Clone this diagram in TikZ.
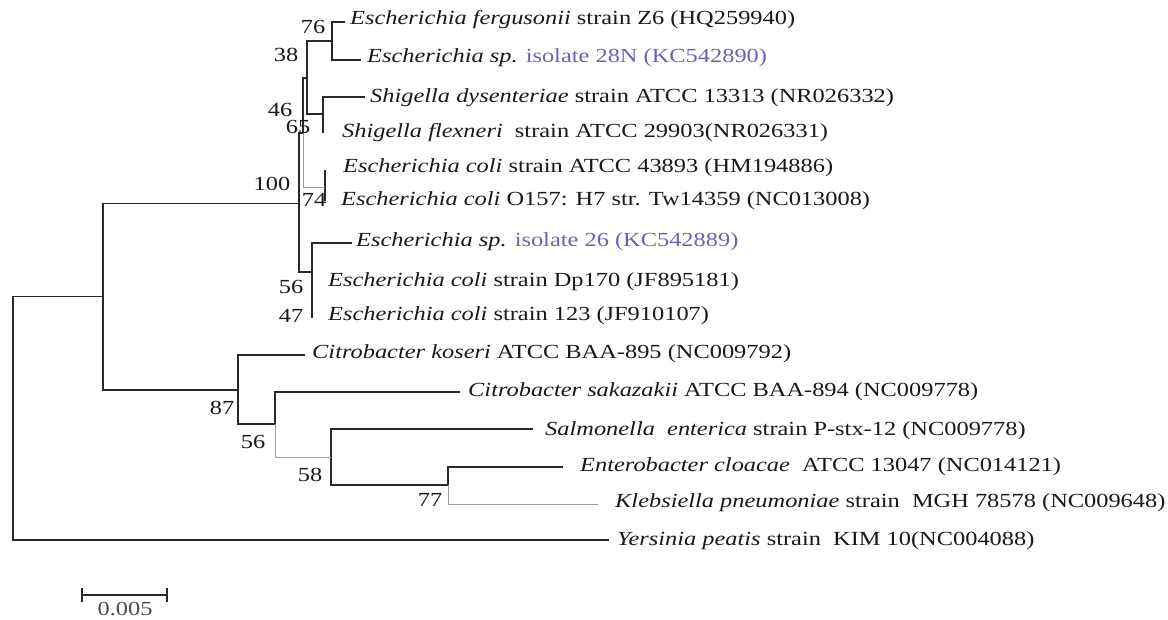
\documentclass[tikz,border=0pt]{standalone}
\usepackage{fontspec}
\setmainfont{Liberation Serif}[FakeStretch=1.22]
\definecolor{isolate}{RGB}{108,98,176}
\definecolor{branchgray}{RGB}{40,40,40}
\begin{document}
\begin{tikzpicture}[x=1pt, y=-1pt,
  branch/.style={draw=branchgray, line width=1.7pt},
  thinbranch/.style={draw=gray!75, line width=1pt},
  leaf/.style={anchor=west, inner sep=0pt, text=black!90, font=\fontsize{20}{24}\selectfont},
  boot/.style={inner sep=0pt, text=black!90, font=\fontsize{20}{24}\selectfont}]
  \useasboundingbox (0,0) rectangle (1168,619);
  % internal nodes
  \coordinate (r) at (13,418);
  \coordinate (n1) at (103,296.5);
  \coordinate (n100) at (299,203.5);
  \coordinate (n65) at (303,133);
  \coordinate (n38) at (307,78);
  \coordinate (n76) at (332,41);
  \coordinate (nsh) at (323,114);
  \coordinate (n74) at (325,187);
  \coordinate (n56a) at (312,272);
  \coordinate (n47) at (312,300);
  \coordinate (n87) at (238,390);
  \coordinate (n56b) at (275,424);
  \coordinate (n58) at (331,457);
  \coordinate (n77) at (448,485);
  % leaf tips
  \coordinate (t1) at (345,22);
  \coordinate (t2) at (361,60);
  \coordinate (t3) at (365,97);
  \coordinate (t4) at (323,133);
  \coordinate (t5) at (325,170);
  \coordinate (t6) at (325,201);
  \coordinate (t7) at (352,243);
  \coordinate (t8) at (312,282);
  \coordinate (t9) at (312,318);
  \coordinate (t10) at (305,355);
  \coordinate (t11) at (460,392);
  \coordinate (t12) at (533,429);
  \coordinate (t13) at (563,467);
  \coordinate (t14) at (598,504);
  \coordinate (t15) at (609,540);
  % branches
  \foreach \p/\c in {r/n1, r/t15, n1/n100, n1/n87, n100/n65, n100/n56a,
      n65/n38, n38/n76, n38/nsh, n76/t1, n76/t2, nsh/t3, nsh/t4, n74/t5, n74/t6,
      n56a/t7, n56a/n47, n47/t8, n47/t9, n87/t10, n87/n56b, n56b/t11,
      n58/t12, n58/n77, n77/t13}
    \draw[branch] (\p) |- (\c);
  \foreach \p/\c in {n65/n74, n56b/n58, n77/t14}
    \draw[thinbranch] (\p) |- (\c);
  % taxa
  \node[leaf] (l1) at (350,20) {\textit{Escherichia fergusonii} strain Z6 (HQ259940)};
  \node[leaf] (l2) at (367,58) {\textit{Escherichia sp.} \textcolor{isolate}{isolate 28N (KC542890)}};
  \node[leaf] (l3) at (370,98) {\textit{Shigella dysenteriae} strain ATCC 13313 (NR026332)};
  \node[leaf] (l4) at (342,133) {\textit{Shigella flexneri}\ \ strain ATCC 29903(NR026331)};
  \node[leaf] (l5) at (343,168) {\textit{Escherichia coli} strain ATCC 43893 (HM194886)};
  \node[leaf] (l6) at (341,201) {\textit{Escherichia coli} O157: H7 str. Tw14359 (NC013008)};
  \node[leaf] (l7) at (356,242) {\textit{Escherichia sp.} \textcolor{isolate}{isolate 26 (KC542889)}};
  \node[leaf] (l8) at (328,282) {\textit{Escherichia coli} strain Dp170 (JF895181)};
  \node[leaf] (l9) at (328,316) {\textit{Escherichia coli} strain 123 (JF910107)};
  \node[leaf] (l10) at (312,354) {\textit{Citrobacter koseri} ATCC BAA-895 (NC009792)};
  \node[leaf] (l11) at (468,392) {\textit{Citrobacter sakazakii} ATCC BAA-894 (NC009778)};
  \node[leaf] (l12) at (545,431) {\textit{Salmonella\ \ enterica} strain P-stx-12 (NC009778)};
  \node[leaf] (l13) at (580,467) {\textit{Enterobacter cloacae}\ \ ATCC 13047 (NC014121)};
  \node[leaf] (l14) at (615,503) {\textit{Klebsiella pneumoniae} strain\ \ MGH 78578 (NC009648)};
  \node[leaf] (l15) at (617,541) {\textit{Yersinia peatis} strain\ \ KIM 10(NC004088)};
  % bootstrap values
  \node[boot] (b76) at (313,27) {76};
  \node[boot] (b38) at (286,55) {38};
  \node[boot] (b46) at (280,110) {46};
  \node[boot] (b65) at (298,127) {65};
  \node[boot] (b100) at (272,184) {100};
  \node[boot] (b74) at (314,200) {74};
  \node[boot] (b56a) at (291,287) {56};
  \node[boot] (b47) at (291,316) {47};
  \node[boot] (b87) at (222,408) {87};
  \node[boot] (b56b) at (253,442) {56};
  \node[boot] (b58) at (310,475) {58};
  \node[boot] (b77) at (430,500) {77};
  % scale bar
  \coordinate (sb1) at (82,595);
  \coordinate (sb2) at (167,595);
  \draw[branch] (sb1) -- (sb2);
  \draw[branch] ([yshift=-7pt]sb1) -- ([yshift=7pt]sb1);
  \draw[branch] ([yshift=-7pt]sb2) -- ([yshift=7pt]sb2);
  \node[boot, text=black!70] (sbl) at (125,609) {0.005};
\end{tikzpicture}
\end{document}
